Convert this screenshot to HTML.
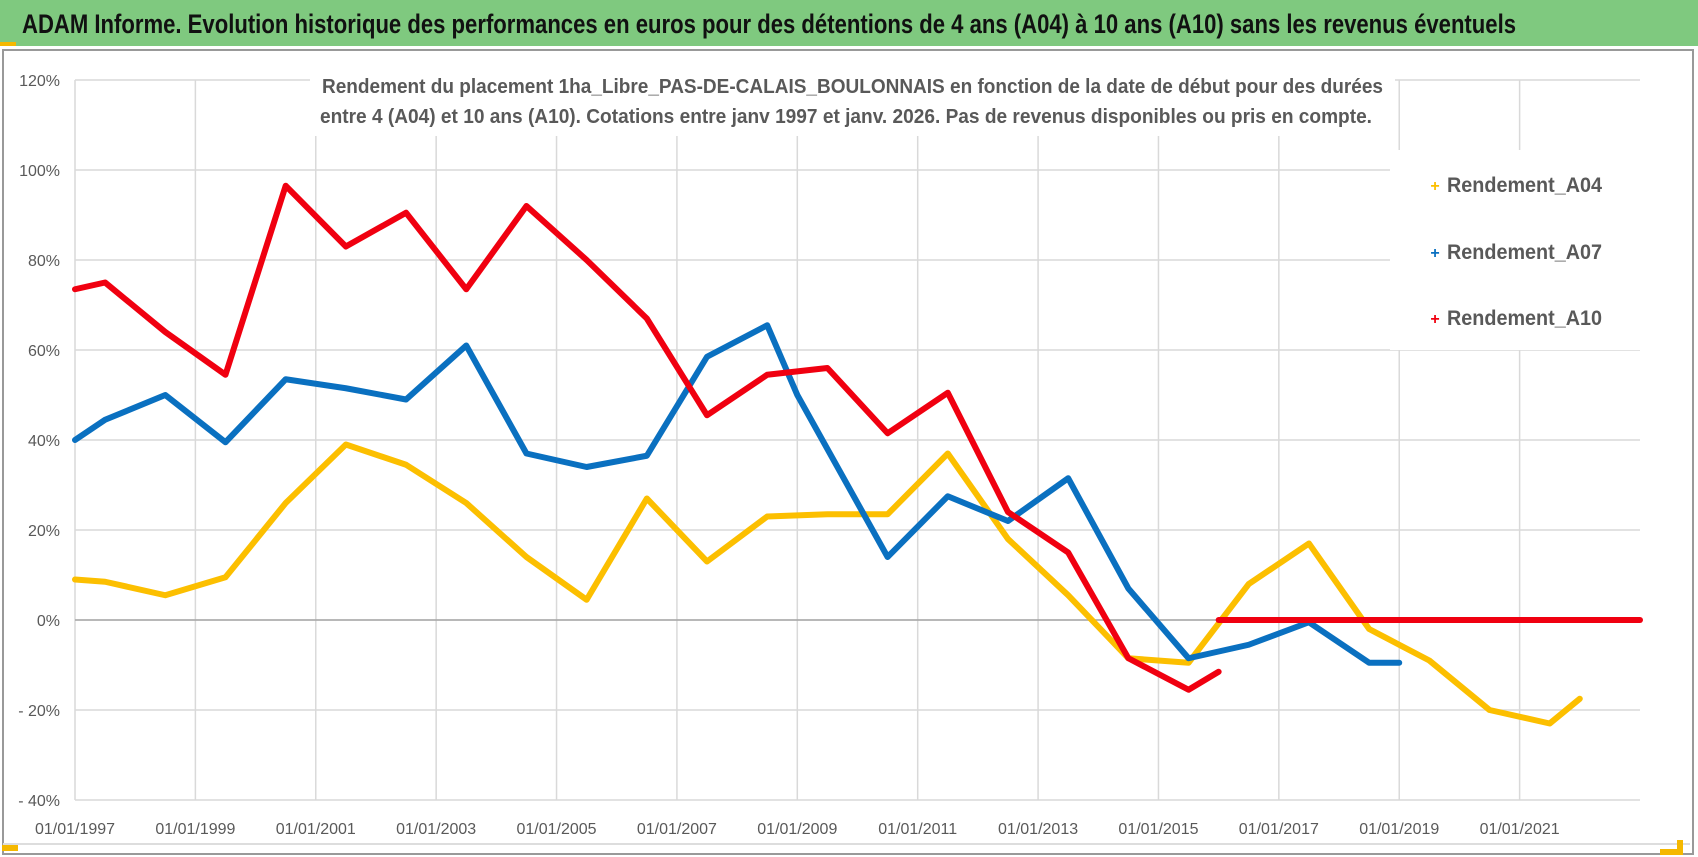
<!DOCTYPE html>
<html><head><meta charset="utf-8">
<style>
body{margin:0;width:1698px;height:857px;overflow:hidden;background:#fff;font-family:"Liberation Sans",sans-serif;}
#title{position:absolute;left:0;top:0;width:1698px;height:46px;background:#7fc97f;}
svg{position:absolute;left:0;top:0;}
</style></head><body>
<div id="title"></div>
<svg id="chart" width="1698" height="857"></svg>
<script>
const yearsA04=[1997,1997.5,1998.5,1999.5,2000.5,2001.5,2002.5,2003.5,2004.5,2005.5,2006.5,2007.5,2008.5,2009.5,2010.5,2011.5,2012.5,2013.5,2014.5,2015.5,2016.5,2017.5,2018.5,2019.5,2020.5,2021.5,2022];
const valsA04=[9,8.5,5.5,9.5,26,39,34.5,26,14,4.5,27,13,23,23.5,23.5,37,18,5.5,-8.5,-9.5,8,17,-2,-9,-20,-23,-17.5];
const yearsA07=[1997,1997.5,1998.5,1999.5,2000.5,2001.5,2002.5,2003.5,2004.5,2005.5,2006.5,2007.5,2008.5,2009,2010.5,2011.5,2012.5,2013.5,2014.5,2015.5,2016.5,2017.5,2018.5,2019];
const valsA07=[40,44.5,50,39.5,53.5,51.5,49,61,37,34,36.5,58.5,65.5,50,14,27.5,22,31.5,7,-8.5,-5.5,-0.5,-9.5,-9.5];
const yearsA10=[1997,1997.5,1998.5,1999.5,2000.5,2001.5,2002.5,2003.5,2004.5,2005.5,2006.5,2007.5,2008.5,2009.5,2010.5,2011.5,2012.5,2013.5,2014.5,2015.5,2016];
const valsA10=[73.5,75,64,54.5,96.5,83,90.5,73.5,92,80,67,45.5,54.5,56,41.5,50.5,24,15,-8.5,-15.5,-11.5];
const yearsA10b=[2016,2023];
const valsA10b=[0,0];
const yTicks=[120,100,80,60,40,20,0,-20,-40];
const yTickLabels=["120%","100%","80%","60%","40%","20%","0%","- 20%","- 40%"];
const xTicks=[1997,1999,2001,2003,2005,2007,2009,2011,2013,2015,2017,2019,2021];
const xTickLabels=["01/01/1997","01/01/1999","01/01/2001","01/01/2003","01/01/2005","01/01/2007","01/01/2009","01/01/2011","01/01/2013","01/01/2015","01/01/2017","01/01/2019","01/01/2021"];

const svg=document.getElementById('chart');
const NS='http://www.w3.org/2000/svg';
const X0=75,X1=1640,Y0=80,Y1=800;
const x=y=>X0+(y-1997)/(2023-1997)*(X1-X0);
const yv=v=>Y0+(120-v)/160*(Y1-Y0);
function mk(t,a){const e=document.createElementNS(NS,t);for(const k in a)e.setAttribute(k,a[k]);svg.appendChild(e);return e;}

let tt=mk('text',{x:22,y:33,'font-size':27,'font-weight':'bold',fill:'#111',textLength:1494,lengthAdjust:'spacingAndGlyphs'});
tt.textContent='ADAM Informe. Evolution historique des performances en euros pour des détentions de 4 ans (A04) à 10 ans (A10) sans les revenus éventuels';



let f=mk('rect',{x:3,y:50,width:1690,height:804,fill:'none',stroke:'#999','stroke-width':2});


let bl=mk('line',{x1:3,y1:844,x2:1690,y2:844,stroke:'#ddd','stroke-width':2});


let c1=mk('rect',{x:2,y:845,width:16,height:6,fill:'#f5b800'});


let c2=mk('path',{d:'M1680 840 V852 H1660',fill:'none',stroke:'#f5b800','stroke-width':6});


let c3=mk('rect',{x:0,y:42,width:16,height:4,fill:'#f5b800'});



yTicks.forEach((t,i)=>{
  const g=mk('line',{x1:X0,x2:X1,y1:yv(t),y2:yv(t),stroke:'#d9d9d9','stroke-width':1.5});
  
  
  const l=mk('text',{x:60,y:yv(t)+6,'text-anchor':'end','font-size':16,fill:'#595959'});
  l.textContent=yTickLabels[i];
  
  
});
xTicks.forEach((t,i)=>{
  const g=mk('line',{x1:x(t),x2:x(t),y1:Y0,y2:Y1,stroke:'#d9d9d9','stroke-width':1.5});
  
  
  const l=mk('text',{x:x(t),y:834,'text-anchor':'middle','font-size':16,fill:'#595959'});
  l.textContent=xTickLabels[i];
  
  
});
let gr0=mk('line',{x1:X0,x2:X1,y1:yv(0),y2:yv(0),stroke:'#a6a6a6','stroke-width':1.5});



let sb=mk('rect',{x:310,y:70,width:1085,height:66,fill:'#fff'});


[["Rendement du placement 1ha_Libre_PAS-DE-CALAIS_BOULONNAIS  en fonction de la date de début pour des durées",93,322,1061],["entre 4 (A04) et 10 ans (A10).  Cotations entre janv 1997 et janv. 2026. Pas de revenus disponibles ou pris  en compte.",123,320,1052]].forEach(s=>{
  const t=mk('text',{x:s[2],y:s[1],'font-size':20,'font-weight':'bold',fill:'#595959',textLength:s[3],lengthAdjust:'spacingAndGlyphs'});
  t.textContent=s[0];
  
  
});

function series(xs,vs,col,name){
  const p=mk('polyline',{points:xs.map((d,i)=>x(d)+','+yv(vs[i])).join(' '),fill:'none',stroke:col,'stroke-width':6,'stroke-linejoin':'round','stroke-linecap':'round'});
  
  
}
series(yearsA04,valsA04,'#fcbf00','series-rendement-a04');
series(yearsA07,valsA07,'#0a70c0','series-rendement-a07');
series(yearsA10,valsA10,'#f00010','series-rendement-a10');
series(yearsA10b,valsA10b,'#f00010','series-rendement-a10-flat');

let lb=mk('rect',{x:1390,y:150,width:270,height:200,fill:'#fff'});


[["Rendement_A04",'#fcbf00',184],["Rendement_A07",'#0a70c0',251],["Rendement_A10",'#f00010',317]].forEach(e=>{
  const m=mk('text',{x:1435,y:e[2]+7,'text-anchor':'middle','font-size':16,'font-weight':'bold',fill:e[1]});
  m.textContent='+';
  
  
  const t=mk('text',{x:1447,y:e[2]+8,'font-size':21,'font-weight':'bold',fill:'#595959',textLength:155,lengthAdjust:'spacingAndGlyphs'});
  t.textContent=e[0];
  
  
});
</script>
</body></html>
